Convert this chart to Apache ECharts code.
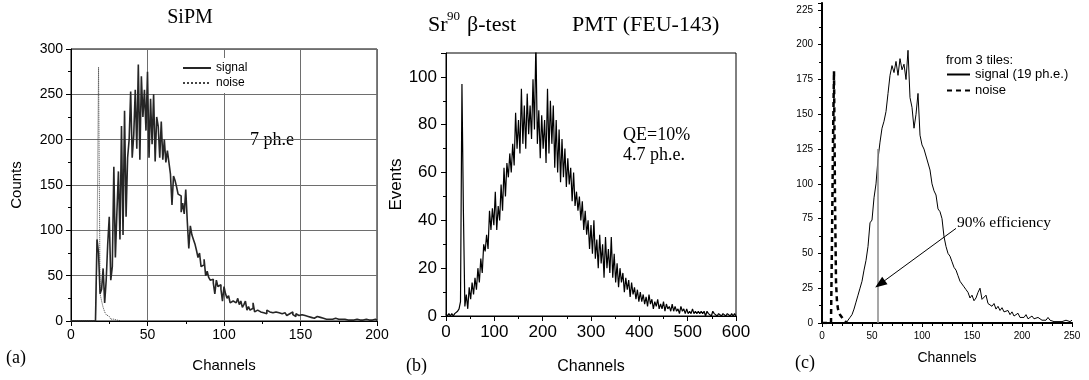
<!DOCTYPE html>
<html>
<head>
<meta charset="utf-8">
<title>SiPM / PMT Sr90 spectra</title>
<script src="https://cdn.jsdelivr.net/npm/echarts@6/dist/echarts.min.js"></script>
<style>
  html, body { margin: 0; padding: 0; background: #fff; }
  #chart { width: 1089px; height: 380px; }
</style>
</head>
<body>
<div id="chart"></div>
<script>
// (a) SiPM, counts per channel, channel 0..200
var sipmSignal = [
  0, 0, 0, 0, 0, 0, 0, 0, 0, 0,
  0, 0, 0, 0, 0, 0, 0, 90, 75, 30,
  35, 58, 20, 45, 85, 115, 45, 60, 170, 70,
  120, 165, 90, 215, 95, 232, 115, 180, 200, 253,
  180, 205, 255, 190, 283, 178, 270, 225, 255, 210,
  275, 180, 245, 195, 250, 176, 225, 215, 180, 220,
  178, 200, 175, 188, 175, 162, 128, 160, 155, 148,
  140, 138, 120, 130, 118, 145, 110, 80, 105, 95,
  90, 85, 78, 70, 75, 60, 62, 68, 50, 55,
  48, 45, 46, 42, 30, 45, 38, 40, 35, 22,
  38, 30, 25, 28, 20, 22, 20, 20, 22, 25,
  18, 22, 15, 18, 22, 12, 16, 12, 14, 20,
  10, 12, 14, 10, 12, 9, 11, 8, 12, 10,
  8, 9, 7, 10, 8, 9, 7, 8, 6, 9,
  7, 6, 8, 6, 10, 7, 5, 8, 6, 5,
  7, 5, 6, 4, 5, 6, 4, 5, 3, 4,
  5, 3, 4, 2, 3, 4, 2, 3, 2, 3,
  2, 2, 3, 1, 2, 3, 2, 1, 2, 2,
  1, 2, 1, 2, 1, 1, 2, 3, 1, 2,
  1, 1, 2, 1, 1, 2, 1, 1, 2, 1,
  1
]
var sipmNoise = [
  0, 0, 0, 0, 0, 0, 0, 0, 0, 0,
  0, 0, 0, 0, 0, 0, 0, 78, 280, 30,
  22, 15, 10, 7, 5, 3, 2, 2, 1, 1,
  1, 0.5, 0
]

// (b) PMT FEU-143, events every 3 channels, 0..600
var pmtStep = 3
var pmtEvents = [
  1, 0, 1, 0, 1, 0, 1, 1, 2, 3,
  6, 97, 44, 4, 9, 3, 12, 7, 14, 9,
  16, 11, 20, 14, 24, 18, 30, 27, 34, 28,
  44, 36, 45, 38, 52, 36, 46, 40, 55, 44,
  62, 50, 64, 58, 68, 60, 72, 63, 85, 70,
  82, 68, 95, 72, 88, 70, 93, 76, 88, 74,
  99, 78, 115, 72, 86, 66, 84, 70, 82, 64,
  95, 68, 90, 72, 88, 62, 82, 60, 78, 56,
  74, 58, 70, 54, 66, 55, 62, 48, 60, 46,
  52, 44, 50, 40, 48, 36, 44, 34, 40, 28,
  38, 26, 40, 24, 32, 20, 34, 22, 30, 16,
  33, 20, 28, 18, 33, 16, 26, 14, 22, 12,
  20, 14, 18, 10, 16, 11, 15, 8, 14, 9,
  12, 7, 11, 6, 10, 6, 9, 5, 8, 4,
  9, 5, 7, 3, 6, 4, 7, 3, 5, 3,
  6, 2, 5, 3, 4, 2, 5, 2, 4, 2,
  3, 1, 4, 2, 3, 1, 3, 1, 2, 1,
  3, 1, 2, 1, 2, 1, 2, 1, 2, 0,
  2, 1, 1, 0, 2, 1, 1, 0, 1, 1,
  0, 1, 1, 0, 1, 1, 0, 1, 0, 1,
  0
]

// (c) 3 tiles, counts every 2 channels, 0..250; noise every channel
var tileStep = 2
var tileSignal = [
  0, 0, 0, 0, 0, 0, 0, 0, 0, 0,
  0, 0, 0, 2, 4, 6, 10, 15, 20, 25,
  30, 38, 45, 55, 72, 74, 90, 100, 118, 130,
  140, 145, 152, 165, 178, 185, 180, 188, 178, 190,
  182, 186, 175, 196, 162, 155, 140, 150, 165, 135,
  128, 125, 124, 115, 110, 100, 95, 92, 82, 80,
  75, 62, 55, 50, 48, 44, 40, 38, 34, 30,
  28, 26, 24, 22, 18, 20, 16, 18, 22, 25,
  17, 16, 20, 14, 15, 12, 14, 10, 12, 9,
  11, 8, 7, 9, 6, 8, 5, 6, 7, 4,
  5, 4, 6, 3, 4, 5, 3, 2, 4, 3,
  2, 3, 2, 4, 2, 3, 1, 2, 1, 2,
  1, 1, 2, 1, 1, 2
]
var tileNoise = [
  0, 0, 0, 0, 0, 0, 0, 0, 0, 0,
  60, 130, 181, 90, 30, 15, 10, 8, 6, 5,
  4, 3, 2, 1, 1, 0
]
var effCut = 56       // 90% efficiency threshold, channels
var effCutTop = 125
var arrowFrom = [134, 68]
var arrowTo = [58, 28]

var SERIF = '"Liberation Serif", "Times New Roman", serif'
var SANS = '"Liberation Sans", Arial, sans-serif'

function toPairs(arr, step) {
  return arr.map(function (v, i) { return [i * step, v] })
}

var chart = echarts.init(document.getElementById('chart'), null, { renderer: 'canvas' })

var txt = function (x, y, text, size, font, align) {
  return {
    type: 'text', x: x, y: y, silent: true,
    style: {
      text: text, font: size + 'px ' + (font || SERIF), fill: '#000',
      textAlign: align || 'left', textVerticalAlign: 'middle'
    }
  }
}

var option = {
  animation: false,
  backgroundColor: '#fff',
  grid: [
    { left: 71, top: 49, width: 306, height: 272, show: true, borderColor: '#000', borderWidth: 1 },
    { left: 446, top: 53, width: 290, height: 270, show: true, borderColor: '#000', borderWidth: 1 },
    { left: 822, top: 3, width: 250, height: 320 }
  ],
  xAxis: [
    { // (a)
      gridIndex: 0, type: 'value', min: 0, max: 200, interval: 50,
      name: 'Channels', nameLocation: 'middle', nameGap: 37,
      nameTextStyle: { fontFamily: SANS, fontSize: 15, color: '#000' },
      axisLine: { lineStyle: { color: '#000' } },
      axisTick: { length: 5, lineStyle: { color: '#000' } },
      minorTick: { show: true, splitNumber: 2, length: 3, lineStyle: { color: '#000' } },
      axisLabel: { fontFamily: SANS, fontSize: 14, color: '#000', margin: 7 },
      splitLine: { show: true, lineStyle: { color: '#6e6e6e', width: 1 } }
    },
    { // (b)
      gridIndex: 1, type: 'value', min: 0, max: 600, interval: 100,
      name: 'Channels', nameLocation: 'middle', nameGap: 43,
      nameTextStyle: { fontFamily: SANS, fontSize: 16, color: '#000' },
      axisLine: { lineStyle: { color: '#000' } },
      axisTick: { length: 5, lineStyle: { color: '#000' } },
      minorTick: { show: true, splitNumber: 2, length: 3, lineStyle: { color: '#000' } },
      axisLabel: { fontFamily: SANS, fontSize: 17, color: '#000', margin: 8 },
      splitLine: { show: false }
    },
    { // (c) bottom
      gridIndex: 2, type: 'value', min: 0, max: 250, interval: 50,
      name: 'Channels', nameLocation: 'middle', nameGap: 28,
      nameTextStyle: { fontFamily: SANS, fontSize: 14, color: '#000' },
      axisLine: { lineStyle: { color: '#000', width: 2 } },
      axisTick: { length: 4, lineStyle: { color: '#000' } },
      minorTick: { show: true, splitNumber: 5, length: 3, lineStyle: { color: '#000' } },
      axisLabel: { fontFamily: SANS, fontSize: 10, color: '#000', margin: 8 },
      splitLine: { show: false }
    },
    { // (c) top frame
      gridIndex: 2, type: 'value', position: 'top', min: 0, max: 250, interval: 50,
      axisLine: { lineStyle: { color: '#000', width: 1.5 } },
      axisTick: { inside: true, length: 4, lineStyle: { color: '#000' } },
      minorTick: { show: true, splitNumber: 5, length: 3, lineStyle: { color: '#000' } },
      axisLabel: { show: false },
      splitLine: { show: false }
    }
  ],
  yAxis: [
    { // (a)
      gridIndex: 0, type: 'value', min: 0, max: 300, interval: 50,
      name: 'Counts', nameLocation: 'middle', nameGap: 47, nameRotate: 90,
      nameTextStyle: { fontFamily: SANS, fontSize: 15, color: '#000' },
      axisLine: { show: true, lineStyle: { color: '#000' } },
      axisTick: { show: true, length: 5, lineStyle: { color: '#000' } },
      minorTick: { show: true, splitNumber: 2, length: 3, lineStyle: { color: '#000' } },
      axisLabel: { fontFamily: SANS, fontSize: 14, color: '#000', margin: 8 },
      splitLine: { show: true, lineStyle: { color: '#6e6e6e', width: 1 } }
    },
    { // (b)
      gridIndex: 1, type: 'value', min: 0, max: 110, interval: 20,
      name: 'Events', nameLocation: 'middle', nameGap: 40, nameRotate: 90,
      nameTextStyle: { fontFamily: SANS, fontSize: 17, color: '#000' },
      axisLine: { show: true, lineStyle: { color: '#000' } },
      axisTick: { show: true, length: 5, lineStyle: { color: '#000' } },
      minorTick: { show: true, splitNumber: 2, length: 3, lineStyle: { color: '#000' } },
      axisLabel: { fontFamily: SANS, fontSize: 17, color: '#000', margin: 9, showMaxLabel: false },
      splitLine: { show: false }
    },
    { // (c) left
      gridIndex: 2, type: 'value', min: 0, max: 230, interval: 25,
      axisLine: { show: true, lineStyle: { color: '#8a8a8a', width: 1.5 } },
      axisTick: { show: true, length: 4, lineStyle: { color: '#000' } },
      minorTick: { show: true, splitNumber: 2, length: 3, lineStyle: { color: '#000' } },
      axisLabel: { fontFamily: SANS, fontSize: 10, color: '#000', margin: 9, showMaxLabel: false },
      splitLine: { show: false }
    },
    { // (c) right frame
      gridIndex: 2, type: 'value', position: 'right', min: 0, max: 230, interval: 25,
      axisLine: { show: true, lineStyle: { color: '#000', width: 2 } },
      axisTick: { show: true, inside: true, length: 4, lineStyle: { color: '#000' } },
      axisLabel: { show: false },
      splitLine: { show: false }
    }
  ],
  legend: [
    {
      data: ['signal', 'noise'], orient: 'vertical', left: 172, top: 58,
      backgroundColor: '#fff', padding: [4, 10, 4, 10],
      itemWidth: 28, itemHeight: 14, itemGap: 3, selectedMode: false,
      itemStyle: { opacity: 0 },
      textStyle: { fontFamily: SANS, fontSize: 12, color: '#000' }
    },
    {
      data: ['signal (19 ph.e.)', 'noise '], orient: 'vertical', left: 946, top: 68,
      padding: 0, itemWidth: 23, itemHeight: 10, itemGap: 3, selectedMode: false,
      itemStyle: { opacity: 0 },
      formatter: function (n) { return n.trim() },
      textStyle: { fontFamily: SANS, fontSize: 13, color: '#000' }
    }
  ],
  series: [
    {
      name: 'signal', type: 'line', xAxisIndex: 0, yAxisIndex: 0,
      step: 'end', symbol: 'none', z: 3,
      itemStyle: { color: '#262626' },
      lineStyle: { color: '#262626', width: 1.6 },
      data: toPairs(sipmSignal, 1)
    },
    {
      name: 'noise', type: 'line', xAxisIndex: 0, yAxisIndex: 0,
      step: 'end', symbol: 'none', z: 2,
      itemStyle: { color: '#444' },
      lineStyle: { color: '#444', width: 1, type: 'dotted' },
      data: toPairs(sipmNoise, 1)
    },
    {
      name: 'PMT', type: 'line', xAxisIndex: 1, yAxisIndex: 1,
      symbol: 'none',
      itemStyle: { color: '#000' },
      lineStyle: { color: '#000', width: 1.2 },
      data: toPairs(pmtEvents, pmtStep)
    },
    {
      name: 'signal (19 ph.e.)', type: 'line', xAxisIndex: 2, yAxisIndex: 2,
      symbol: 'none',
      itemStyle: { color: '#000' },
      lineStyle: { color: '#000', width: 1 },
      data: toPairs(tileSignal, tileStep),
      markLine: {
        silent: true, animation: false, symbol: ['none', 'none'],
        label: { show: false },
        data: [
          [
            { coord: [effCut, 0], lineStyle: { color: '#8a8a8a', width: 1.5, type: 'solid' } },
            { coord: [effCut, effCutTop] }
          ],
          [
            { coord: arrowFrom, symbol: 'none', lineStyle: { color: '#000', width: 1, type: 'solid' } },
            { coord: arrowTo, symbol: 'triangle', symbolSize: [9, 12] }
          ]
        ]
      }
    },
    {
      name: 'noise ', type: 'line', xAxisIndex: 2, yAxisIndex: 2,
      symbol: 'none',
      itemStyle: { color: '#000' },
      lineStyle: { color: '#000', width: 2.5, type: [5, 4] },
      data: toPairs(tileNoise, 1)
    }
  ],
  graphic: [
    txt(190, 18, 'SiPM', 20, SERIF, 'center'),
    txt(250, 140, '7 ph.e', 18),
    txt(6, 358, '(a)', 18),
    txt(428, 25, 'Sr', 22),
    txt(447, 17, '90', 13),
    txt(467, 25, '\u03b2-test', 22),
    txt(572, 25, 'PMT (FEU-143)', 22),
    txt(623, 135, 'QE=10%', 18),
    txt(623, 155, '4.7 ph.e.', 18),
    txt(406, 366, '(b)', 18),
    txt(946, 60, 'from 3 tiles:', 13, SANS),
    txt(957, 223, '90% efficiency', 15.5),
    txt(795, 363, '(c)', 18)
  ]
}

chart.setOption(option)
</script>
</body>
</html>
